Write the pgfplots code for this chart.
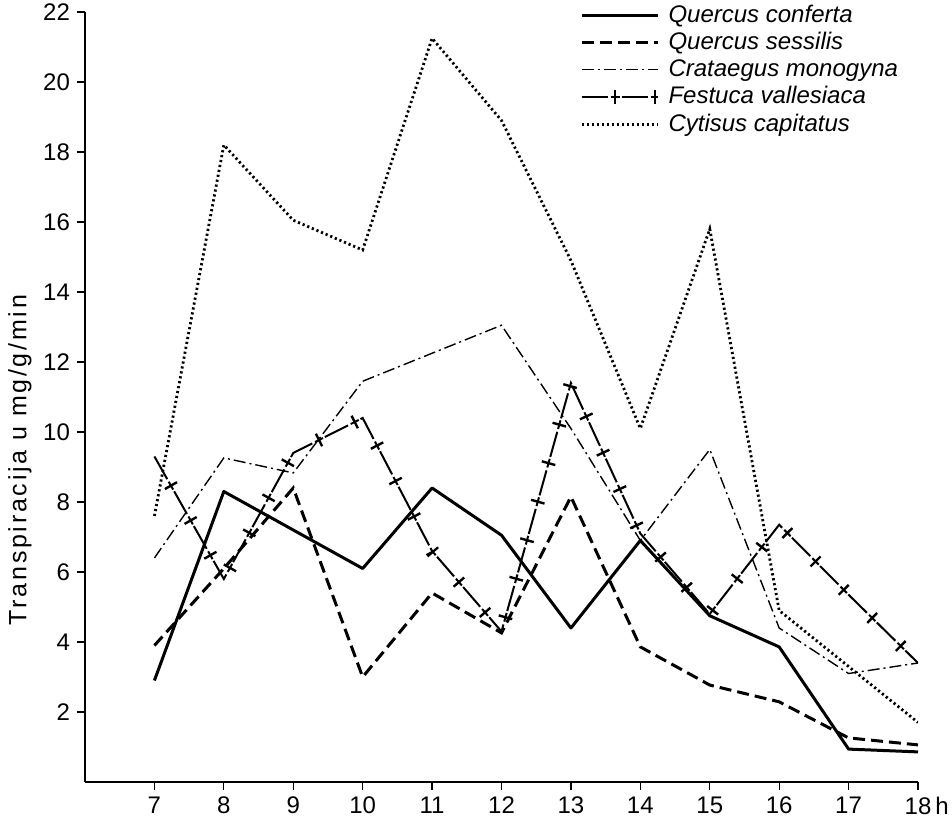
\documentclass[border=0pt]{standalone}
\usepackage{pgfplots}
\pgfplotsset{compat=1.18}
\usepackage{pgfplotstable}
\usepackage{fontspec}
\setmainfont{Liberation Sans}
\pgfplotstableread{
h conf sess crat fest cyt
7 2.9 3.9 6.4 9.3 7.6
8 8.3 6.1 9.26 5.8 18.2
9 7.2 8.4 8.83 9.4 16.05
10 6.1 3.0 11.45 10.4 15.2
11 8.4 5.4 12.25 6.6 21.25
12 7.05 4.26 13.05 4.3 18.9
13 4.4 8.15 10.1 11.4 14.9
14 6.9 3.86 6.9 7.1 10.1
15 4.75 2.77 9.5 4.8 15.8
16 3.86 2.29 4.4 7.35 4.9
17 0.94 1.26 3.1 5.35 3.3
18 0.86 1.06 3.4 3.4 1.7
}\data
\tikzset{
  festbase/.style={black, line width=1pt, dash pattern=on 13pt off 1.5pt on 4.5pt off 1pt},
  festbars/.style={black, line width=7pt, dash pattern=on 1.2pt off 18.8pt, dash phase=3.85pt},
}
\begin{document}
\begin{tikzpicture}
\begin{axis}[
  scale only axis, width=416.5pt, height=385pt,
  xmin=6, xmax=18, ymin=0, ymax=22,
  axis lines*=left,
  axis line style={line width=0.7pt},
  tick align=outside, major tick length=4pt,
  tick style={line width=0.6pt, black},
  xtick={7,...,18},
  xticklabels={7,8,9,10,11,12,13,14,15,16,17,{18\rlap{\,h}}},
  ytick={2,4,...,22},
  /pgf/number format/assume math mode=true,
  tick label style={font=\fontsize{12}{14}\selectfont},
  ylabel={Transpiracija u mg/g/min},
  ylabel style={font=\fontsize{12.5}{14}\selectfont\addfontfeatures{LetterSpace=11}, at={(axis description cs:-0.078,0.418)}, anchor=center},
  legend style={draw=none, fill=none, at={(axis description cs:0.58,1.02)}, anchor=north west, font=\fontsize{12}{13}\selectfont\itshape, row sep=-0.5pt, cells={anchor=west}},
  legend image code/.code={\draw[#1] (0pt,0pt) -- (38pt,0pt);},
]
\addplot[black, line width=1.5pt, line join=round] table[x=h, y=conf] {\data};
\addlegendentry{Quercus conferta}
\addplot[black, line width=1.5pt, dash pattern=on 6pt off 3pt] table[x=h, y=sess] {\data};
\addlegendentry{Quercus sessilis}
\addplot[black, line width=0.7pt, dash pattern=on 6pt off 2pt on 1pt off 2pt] table[x=h, y=crat] {\data};
\addlegendentry{Crataegus monogyna}
\addplot[festbars, forget plot] table[x=h, y=fest] {\data};
\addplot[festbase, legend image code/.code={\draw[festbase] (0pt,0pt) -- (38pt,0pt); \draw[festbars] (0pt,0pt) -- (38pt,0pt);}] table[x=h, y=fest] {\data};
\addlegendentry{Festuca vallesiaca}
\addplot[black, line width=1.4pt, dash pattern=on 1.1pt off 1.4pt] table[x=h, y=cyt] {\data};
\addlegendentry{Cytisus capitatus}
\end{axis}
\pgfresetboundingbox
\path (-42.5pt,-21pt) rectangle (433.5pt,391pt);
\end{tikzpicture}
\end{document}
